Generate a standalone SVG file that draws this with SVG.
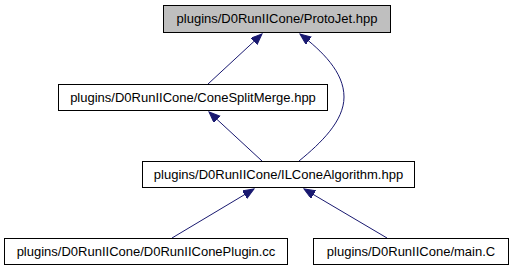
<svg xmlns="http://www.w3.org/2000/svg" width="512" height="272" viewBox="0 0 512 272">
<style>
  .box { stroke: #000000; stroke-width: 1; fill: #ffffff; }
  .cur { fill: #bfbfbf; }
  .lbl { font-family: "Liberation Sans", Arial, sans-serif; font-size: 13px; fill: #000000; text-anchor: middle; }
  .edge { fill: none; stroke: #191970; stroke-width: 1; marker-end: url(#arr); }
</style>
<defs>
  <marker id="arr" markerUnits="userSpaceOnUse" markerWidth="12" markerHeight="10" refX="11" refY="4.5" orient="auto" viewBox="0 0 12 10">
    <path d="M0,0 L11,4.5 L0,9 z" fill="#191970" stroke="#191970" stroke-width="1"/>
  </marker>
</defs>
<rect width="512" height="272" fill="#ffffff"/>
<g id="edges">
  <path class="edge" d="M208,84 L262,34"/>
  <path class="edge" d="M299,161 C321,143 344,121 344,97 C344,72 322,51 300,34"/>
  <path class="edge" d="M262,161 L209,112"/>
  <path class="edge" d="M172,238 L254,189"/>
  <path class="edge" d="M387,238 L304,189"/>
</g>
<g id="node_protojet">
  <rect class="box cur" x="163.5" y="5.5" width="227" height="27"/>
  <text class="lbl" x="277" y="23">plugins/D0RunIICone/ProtoJet.hpp</text>
</g>
<g id="node_conesplitmerge">
  <rect class="box" x="58.5" y="84.5" width="269" height="26"/>
  <text class="lbl" x="193" y="102">plugins/D0RunIICone/ConeSplitMerge.hpp</text>
</g>
<g id="node_ilconealgorithm">
  <rect class="box" x="142.5" y="161.5" width="272" height="26"/>
  <text class="lbl" x="278.5" y="179">plugins/D0RunIICone/ILConeAlgorithm.hpp</text>
</g>
<g id="node_plugin">
  <rect class="box" x="4.5" y="238.5" width="283" height="26"/>
  <text class="lbl" x="146" y="256">plugins/D0RunIICone/D0RunIIConePlugin.cc</text>
</g>
<g id="node_main">
  <rect class="box" x="313.5" y="238.5" width="195" height="26"/>
  <text class="lbl" x="411" y="256">plugins/D0RunIICone/main.C</text>
</g>
</svg>
